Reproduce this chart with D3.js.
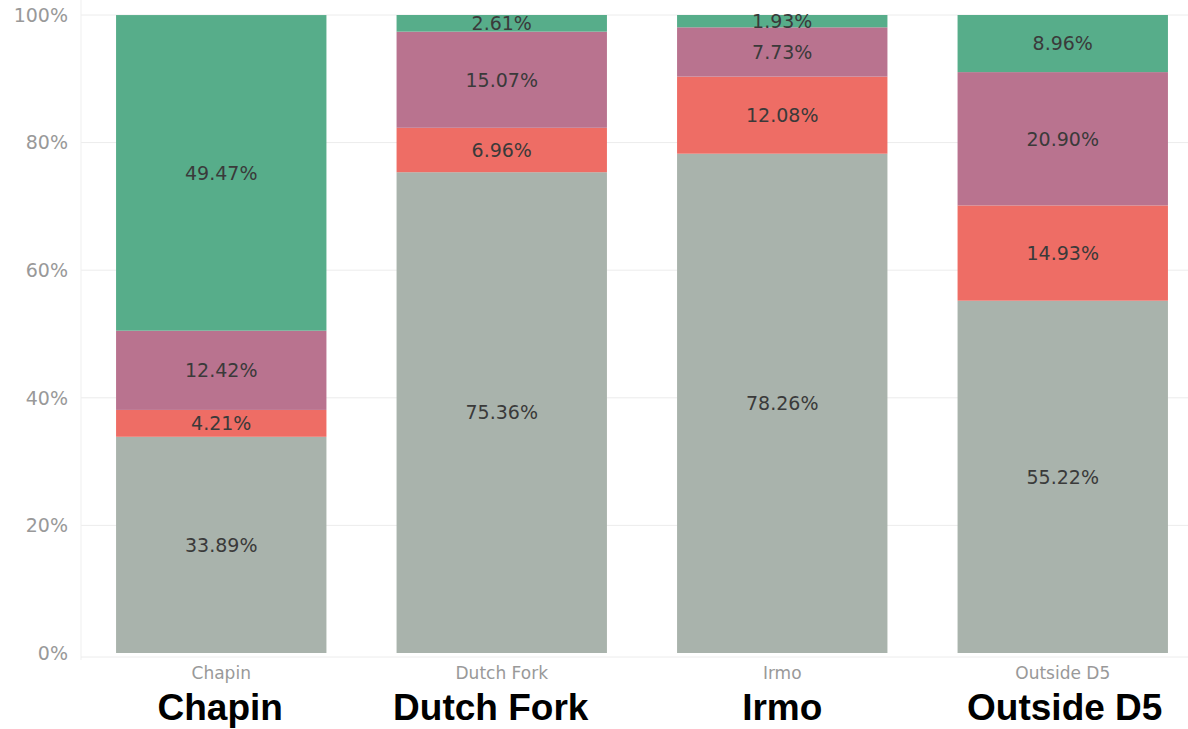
<!DOCTYPE html>
<html>
<head>
<meta charset="utf-8">
<script src="https://cdn.jsdelivr.net/npm/d3@7"></script>
<style>
  body { margin: 0; background: #fff; }
  svg { display: block; }
</style>
</head>
<body>
<div id="chart"></div>
<script>
// data
const schools = ["Chapin", "Dutch Fork", "Irmo", "Outside D5"];
const groups = ["gray", "red", "purple", "green"]; // stacked bottom to top
const grayVals = [33.89, 75.36, 78.26, 55.22];
const redVals = [4.21, 6.96, 12.08, 14.93];
const purpleVals = [12.42, 15.07, 7.73, 20.90];
const greenVals = [49.47, 2.61, 1.93, 8.96];
const yTicks = [0, 20, 40, 60, 80, 100];
// the big labels below were placed by hand, a little off centre
const bigLabelShift = [-1, -11, 0, 2];

const colors = {gray: "#a9b3ac", red: "#ee6d65", purple: "#b9738f", green: "#57ad8a"};

const W = 1188, H = 729;
const plotTop = 15, plotBottom = 653, plotLeft = 81;
const labelFont = "'DejaVu Sans', sans-serif";

const rows = schools.map((s, i) => ({
  school: s, gray: grayVals[i], red: redVals[i], purple: purpleVals[i], green: greenVals[i]
}));

const svg = d3.select("#chart").append("svg")
  .attr("width", W).attr("height", H);

const x = d3.scaleBand()
  .domain(schools)
  .range([plotLeft, plotLeft + 4 * 280.5])
  .paddingInner(0.25)
  .paddingOuter(0.125);

const y = d3.scaleLinear().domain([0, 100]).range([plotBottom, plotTop]);

// gridlines
svg.append("g").selectAll("line")
  .data(yTicks.slice(1))
  .join("line")
    .attr("x1", plotLeft).attr("x2", W)
    .attr("y1", d => y(d)).attr("y2", d => y(d))
    .attr("stroke", "#ececec").attr("stroke-width", 1);

// axis lines
svg.append("line")
  .attr("x1", plotLeft).attr("x2", plotLeft)
  .attr("y1", 0).attr("y2", 660)
  .attr("stroke", "#efefef");
svg.append("line")
  .attr("x1", plotLeft).attr("x2", W)
  .attr("y1", 657).attr("y2", 657)
  .attr("stroke", "#ececec");

// y tick labels
svg.append("g").selectAll("text")
  .data(yTicks)
  .join("text")
    .attr("x", 68)
    .attr("y", d => y(d))
    .attr("dy", "0.36em")
    .attr("text-anchor", "end")
    .attr("font-family", labelFont)
    .attr("font-size", 19)
    .attr("fill", "#999")
    .text(d => d + "%");

const stacked = d3.stack().keys(groups)(rows);

const layer = svg.append("g").selectAll("g")
  .data(stacked)
  .join("g")
    .attr("fill", d => colors[d.key]);

layer.selectAll("rect")
  .data(d => d)
  .join("rect")
    .attr("x", d => x(d.data.school))
    .attr("width", x.bandwidth())
    .attr("y", d => y(Math.min(d[1], 100)))
    .attr("height", d => y(d[0]) - y(Math.min(d[1], 100)));

// segment labels
svg.append("g").selectAll("g")
  .data(stacked)
  .join("g")
  .selectAll("text")
  .data(d => d.map(v => ({v, key: d.key})))
  .join("text")
    .attr("x", d => x(d.v.data.school) + x.bandwidth() / 2)
    .attr("y", d => (y(d.v[0]) + y(Math.min(d.v[1], 100))) / 2)
    .attr("dy", "0.36em")
    .attr("text-anchor", "middle")
    .attr("font-family", labelFont)
    .attr("font-size", 19)
    .attr("fill", "#3a3a3a")
    .text(d => d.v.data[d.key].toFixed(2) + "%");

// small category labels
svg.append("g").selectAll("text")
  .data(schools)
  .join("text")
    .attr("x", d => x(d) + x.bandwidth() / 2)
    .attr("y", 673)
    .attr("dy", "0.36em")
    .attr("text-anchor", "middle")
    .attr("font-family", labelFont)
    .attr("font-size", 17)
    .attr("fill", "#999")
    .text(d => d);

// big bold labels
svg.append("g").selectAll("text")
  .data(schools)
  .join("text")
    .attr("x", (d, i) => x(d) + x.bandwidth() / 2 + bigLabelShift[i])
    .attr("y", 720)
    .attr("text-anchor", "middle")
    .attr("font-family", "'Liberation Sans', Arial, sans-serif")
    .attr("font-weight", "bold")
    .attr("font-size", 37)
    .attr("fill", "#000")
    .text(d => d);
</script>
</body>
</html>
